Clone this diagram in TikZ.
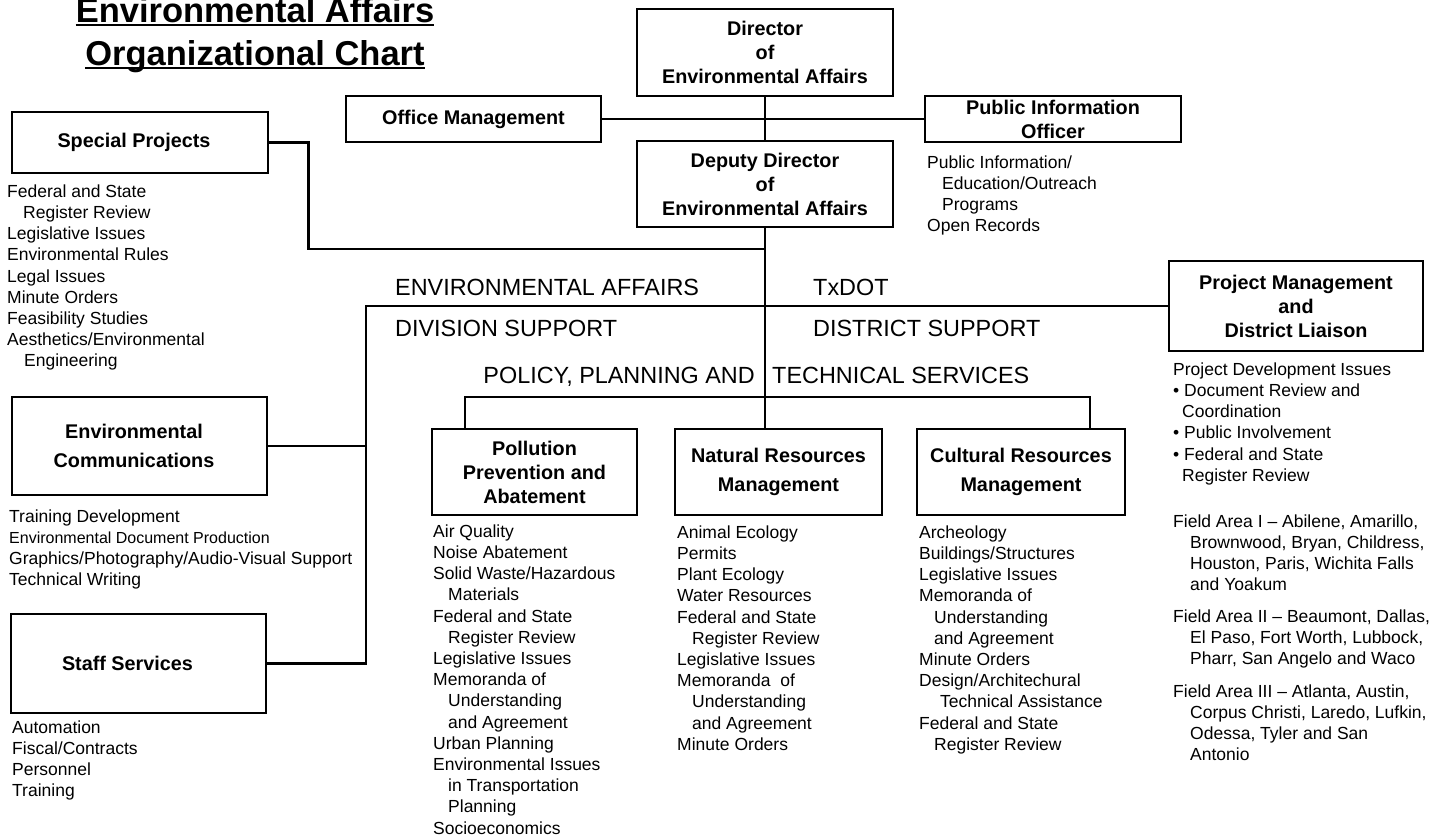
\documentclass[tikz,border=0pt]{standalone}
\usepackage{fontspec}
\setmainfont{Liberation Sans}
\usetikzlibrary{calc}
\newcommand{\lstfont}{\fontsize{17.5}{21.2}\selectfont}
\newcommand{\boxfont}{\fontsize{19.8}{24}\selectfont\bfseries}
\newcommand{\boxfontwide}{\fontsize{19.8}{29.5}\selectfont\bfseries}
\newcommand{\ind}{\hspace*{15pt}}
\tikzset{
  box/.style={draw, line width=2.5pt, inner sep=0pt, align=center, font=\boxfont},
  lst/.style={anchor=north west, inner sep=0pt, align=left, font=\lstfont, yshift=14.84pt},
  sect/.style={inner sep=0pt, font=\fontsize{23.4}{28}\selectfont},
  ttl/.style={anchor=base, inner sep=0pt, font=\fontsize{34.5}{43}\selectfont\bfseries},
  conn/.style={line width=2.5pt},
  uline/.style={line width=2pt},
}
\begin{document}
\begin{tikzpicture}[x=1pt, y=-1pt]
\useasboundingbox (0,0) rectangle (1450,836);

% title
\node[ttl] (t1) at (255,22) {Environmental Affairs};
\node[ttl] (t2) at (255,65) {Organizational Chart};
\draw[uline] ([yshift=-3pt]t1.base west) -- ([yshift=-3pt]t1.base east);
\draw[uline] ([yshift=-3pt]t2.base west) -- ([yshift=-3pt]t2.base east);

% boxes
\node[box, minimum width=256pt, minimum height=87pt] (dir) at (765,52.5) {Director\\of\\Environmental Affairs};
\node[box, minimum width=255pt, minimum height=46pt] (off) at (473.5,119) {Office Management};
\node[box, minimum width=256pt, minimum height=46pt] (pub) at (1053,119) {Public Information\\Officer};
\node[box, minimum width=256pt, minimum height=86pt] (dep) at (765,184) {Deputy Director\\of\\Environmental Affairs};
\node[box, minimum width=256pt, minimum height=61pt] (spec) at (140,142.5) {Special Projects\kern12pt};
\node[box, font=\boxfontwide, minimum width=255pt, minimum height=98pt] (envc) at (139.5,446) {Environmental\kern11pt\\Communications\kern11pt};
\node[box, minimum width=255pt, minimum height=99pt] (staff) at (138.5,663.5) {Staff Services\kern22pt};
\node[box, minimum width=254pt, minimum height=90pt] (pm) at (1296,306) {Project Management\\and\\District Liaison};
\node[box, minimum width=205pt, minimum height=86pt] (poll) at (534.5,472) {Pollution\\Prevention and\\Abatement};
\node[box, font=\boxfontwide, minimum width=207pt, minimum height=86pt] (nat) at (778.5,472) {Natural Resources\\Management};
\node[box, font=\boxfontwide, minimum width=208pt, minimum height=86pt] (cult) at (1021,472) {Cultural Resources\\Management};

% junction points
\coordinate (sj) at (765,249);
\coordinate (tl) at (366,306);
\coordinate (pl) at (465,397);
\coordinate (pr) at (1090,397);

% connectors
\draw[conn] (dir.south) -- (dep.north);
\draw[conn] (off.east) -- (pub.west);
\draw[conn] (dep.south) -- (dep.south |- nat.north);
\draw[conn] (spec.east) -- ++(39pt,0) |- (sj);
\draw[conn] (pm.west) -- (tl) -- (tl |- staff.east) -- (staff.east);
\draw[conn] (envc.east) -- (envc.east -| tl);
\draw[conn] (pl |- poll.north) -- (pl) -- (pr) -- (pr |- cult.north);

% section labels
\node[sect, anchor=base west] (ea) at (395,295) {ENVIRONMENTAL AFFAIRS};
\node[sect, anchor=base west] (ds) at (395,336) {DIVISION SUPPORT};
\node[sect, anchor=base west] (tx) at (813,295) {TxDOT};
\node[sect, anchor=base west] (dis) at (813,336) {DISTRICT SUPPORT};
\node[sect, anchor=base east] (ppa) at (755,383) {POLICY, PLANNING AND};
\node[sect, anchor=base west] (tsv) at (772,383) {TECHNICAL SERVICES};

% lists
\node[lst] (specl) at (7,197) {\strut Federal and State\\\hspace*{16pt}Register Review\\Legislative Issues\\Environmental Rules\\Legal Issues\\Minute Orders\\Feasibility Studies\\Aesthetics/Environmental\\\hspace*{17pt}Engineering};

\node[lst] (envcl) at (9,522) {\strut Training Development\\{\fontsize{16}{21.2}\selectfont Environmental Document Production}\\Graphics/Photography/Audio-Visual Support\\Technical Writing};

\node[lst] (staffl) at (12,733) {\strut Automation\\Fiscal/Contracts\\Personnel\\Training};

\node[lst] (publ) at (927,168) {\strut Public Information/\\\ind Education/Outreach\\\ind Programs\\Open Records};

\node[lst] (polll) at (433,537) {\strut Air Quality\\Noise Abatement\\Solid Waste/Hazardous\\\ind Materials\\Federal and State\\\ind Register Review\\Legislative Issues\\Memoranda of\\\ind Understanding\\\ind and Agreement\\Urban Planning\\Environmental Issues\\\ind in Transportation\\\ind Planning\\Socioeconomics};

\node[lst] (natl) at (677,538) {\strut Animal Ecology\\Permits\\Plant Ecology\\Water Resources\\Federal and State\\\ind Register Review\\Legislative Issues\\Memoranda\ \ of\\\ind Understanding\\\ind and Agreement\\Minute Orders};

\node[lst] (cultl) at (919,538) {\strut Archeology\\Buildings/Structures\\Legislative Issues\\Memoranda of\\\ind Understanding\\\ind and Agreement\\Minute Orders\\Design/Architechural\\\hspace*{21pt}Technical Assistance\\Federal and State\\\ind Register Review};

\node[lst] (pml) at (1173,375) {\strut Project Development Issues\\• Document Review and\\\hspace*{9pt}Coordination\\• Public Involvement\\• Federal and State\\\hspace*{9pt}Register Review};

\node[lst] (fa1) at (1173,527) {\strut Field Area I – Abilene, Amarillo,\\\hspace*{17pt}Brownwood, Bryan, Childress,\\\hspace*{17pt}Houston, Paris, Wichita Falls\\\hspace*{17pt}and Yoakum};

\node[lst] (fa2) at (1173,622) {\strut Field Area II – Beaumont, Dallas,\\\hspace*{17pt}El Paso, Fort Worth, Lubbock,\\\hspace*{17pt}Pharr, San Angelo and Waco};

\node[lst] (fa3) at (1173,697) {\strut Field Area III – Atlanta, Austin,\\\hspace*{17pt}Corpus Christi, Laredo, Lufkin,\\\hspace*{17pt}Odessa, Tyler and San\\\hspace*{17pt}Antonio};

\end{tikzpicture}
\end{document}
